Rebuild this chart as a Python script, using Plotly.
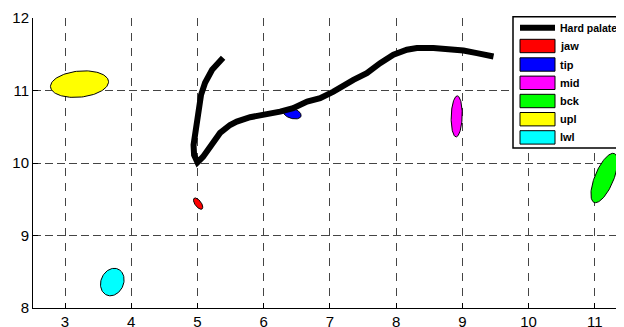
import numpy as np
import plotly.graph_objects as go

# ---- data ----
palate_x = [5.387, 5.221, 5.115, 5.054, 5.009, 4.964, 4.941, 4.949, 4.979, 5.000,
            5.085, 5.160, 5.236, 5.341, 5.492, 5.594, 5.795, 5.991, 6.248, 6.444,
            6.656, 6.852, 7.053, 7.355, 7.557, 7.758, 7.959, 8.162, 8.313, 8.563,
            8.816, 9.017, 9.219, 9.470]
palate_y = [11.451, 11.285, 11.106, 10.940, 10.663, 10.456, 10.249, 10.111, 10.035, 10.010,
            10.087, 10.180, 10.294, 10.415, 10.525, 10.571, 10.632, 10.663, 10.709, 10.756,
            10.847, 10.894, 10.985, 11.147, 11.240, 11.378, 11.493, 11.562, 11.585, 11.585,
            11.572, 11.552, 11.516, 11.469]

ell_names = ["jaw", "tip", "mid", "bck", "upl", "lwl"]
ell_cx = [5.01, 6.429, 8.914, 11.142, 3.219, 3.714]
ell_cy = [9.44, 10.684, 10.643, 9.793, 11.088, 8.358]
ell_a = [0.095, 0.14, 0.283, 0.37, 0.44, 0.20]     # semi-major
ell_b = [0.045, 0.07, 0.083, 0.14, 0.18, 0.167]    # semi-minor
ell_ang = [-50, -15, 88, 65, 5, 55]                 # degrees
ell_colors = ["#FF0000", "#0000FF", "#FF00FF", "#00FF00", "#FFFF00", "#00FFFF"]

x_ticks = [3, 4, 5, 6, 7, 8, 9, 10, 11]
y_ticks = [8, 9, 10, 11, 12]

FONT = "Liberation Sans, Arial, sans-serif"

fig = go.Figure()

t = np.linspace(0, 2 * np.pi, 120)
for name, cx, cy, a, b, ang, col in zip(ell_names, ell_cx, ell_cy, ell_a, ell_b, ell_ang, ell_colors):
    ph = np.deg2rad(ang)
    ex = cx + a * np.cos(t) * np.cos(ph) - b * np.sin(t) * np.sin(ph)
    ey = cy + a * np.cos(t) * np.sin(ph) + b * np.sin(t) * np.cos(ph)
    fig.add_trace(go.Scatter(x=ex, y=ey, mode="lines", fill="toself", fillcolor=col,
                             line=dict(color="black", width=1), name=name,
                             showlegend=False, hoverinfo="skip"))

fig.add_trace(go.Scatter(x=palate_x, y=palate_y, mode="lines",
                         line=dict(color="black", width=6),
                         name="Hard palate", showlegend=False))

# page body has an 8px margin; work in reference pixel coords and shift
OFF = 8
W, H = 632, 327
ML = 33 - OFF          # plot left edge at ref x=33
MT = 18 - OFF          # plot top at ref y=18
PLOT_R = 628 - OFF     # plot right edge at ref x=628
PLOT_B = 308 - OFF     # plot bottom at ref y=308
MR = W - PLOT_R
MB = H - PLOT_B
PW, PH = PLOT_R - ML, PLOT_B - MT
XSCALE = 66.23


def px(xp):
    return (xp - OFF - ML) / PW


def py(yp):
    return (PLOT_B - (yp - OFF)) / PH


# manual legend
shapes = []
shapes.append(dict(type="rect", xref="paper", yref="paper", x0=px(513), x1=px(660),
                   y0=py(148), y1=py(16.7), line=dict(color="black", width=1.5),
                   fillcolor="white", layer="above"))
shapes.append(dict(type="line", xref="paper", yref="paper", x0=px(520), x1=px(555),
                   y0=py(27.7), y1=py(27.7), line=dict(color="black", width=6)))
annotations = [dict(text="<b>Hard palate</b>", xref="paper", yref="paper", x=px(558),
                    y=py(27.7), xanchor="left", yanchor="middle", showarrow=False,
                    font=dict(family=FONT, size=10.5, color="black"))]
row_c = [46, 64.5, 82.8, 101, 119.2, 137.4]
for name, col, yc in zip(ell_names, ell_colors, row_c):
    shapes.append(dict(type="rect", xref="paper", yref="paper", x0=px(520), x1=px(555),
                       y0=py(yc + 6.7), y1=py(yc - 6.7), line=dict(color="black", width=1),
                       fillcolor=col))
    annotations.append(dict(text="<b>%s</b>" % name, xref="paper", yref="paper", x=px(558),
                            y=py(yc), xanchor="left", yanchor="middle", showarrow=False,
                            font=dict(family=FONT, size=11, color="black")))

x0 = 3 - 32.0 / XSCALE
fig.update_layout(
    width=W, height=H,
    margin=dict(l=ML, r=MR, t=MT, b=MB, autoexpand=False),
    paper_bgcolor="white", plot_bgcolor="white",
    shapes=shapes, annotations=annotations, showlegend=False,
    font=dict(family=FONT, size=15, color="black"),
    xaxis=dict(range=[x0, x0 + PW / XSCALE], tickvals=x_ticks,
               showgrid=True, gridcolor="#444", griddash="8px,7px", gridwidth=1,
               showline=True, linecolor="black", linewidth=1, ticks="inside", ticklen=5,
               tickcolor="black", zeroline=False, fixedrange=True),
    yaxis=dict(range=[8, 12], tickvals=y_ticks,
               showgrid=True, gridcolor="#444", griddash="8px,4px", gridwidth=1,
               showline=True, linecolor="black", linewidth=1, ticks="inside", ticklen=5,
               tickcolor="black", zeroline=False, fixedrange=True),
)

fig.write_html("out.html")
